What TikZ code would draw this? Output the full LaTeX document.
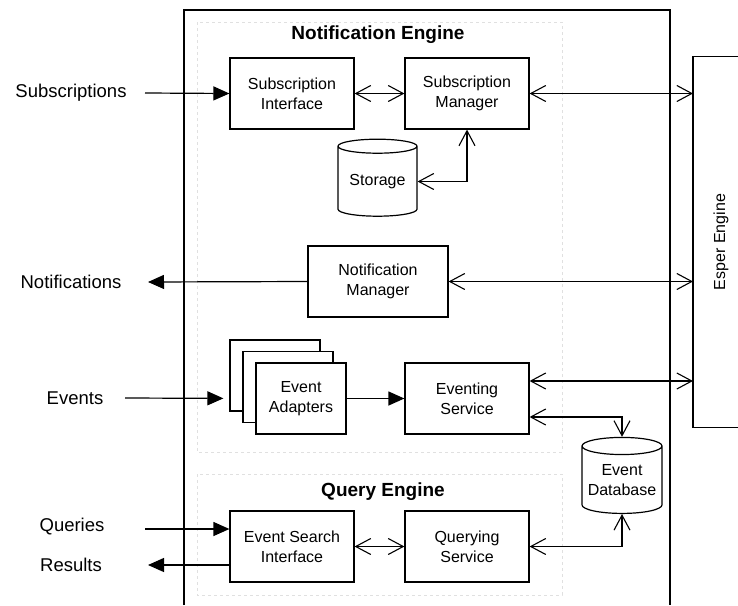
\documentclass[tikz,border=0pt]{standalone}
\usepackage{fontspec}
\setmainfont{Liberation Sans}
\usetikzlibrary{arrows.meta,shapes.geometric,shadows}

\begin{document}
\begin{tikzpicture}[x=1pt,y=-1pt,line width=1.2pt,
  >={Straight Barb[length=15pt,width=16pt,line width=1.1pt]},
  box/.style={draw,fill=white,minimum width=124pt,minimum height=71pt,align=center,inner sep=0pt,font={\fontsize{16}{20}\selectfont}},
  drum/.style={draw,fill=white,cylinder,shape border rotate=90,aspect=0.25,inner sep=0pt,align=center,font={\fontsize{16}{20}\selectfont}},
  outlabel/.style={font={\fontsize{18.5}{22}\selectfont}},
  title/.style={font={\fontsize{19}{22}\selectfont\bfseries}},
  feed/.style={-{Triangle[length=16pt,width=14pt]}},
  group/.style={draw=black!12,dashed,line width=0.8pt}]
\useasboundingbox (0,0) rectangle (738,605);
\draw (184,605) -- (184,10) -- (670,10) -- (670,605);
\draw[group] (197,22) rectangle (562,452);
\draw[group] (197,474) rectangle (562,595);

\node[title] (ntitle) at (378,35) {Notification Engine};
\node[title] (qtitle) at (383,492) {Query Engine};

\node[box] (si) at (292,93.5) {Subscription\\Interface};
\node[box] (sm) at (467,93.5) {Subscription\\Manager};
\node[drum,minimum width=79pt,minimum height=77pt] (store) at (377.5,181.5) {Storage};
\node[box,minimum width=140pt] (nm) at (378,281.5) {Notification\\Manager};
\node[box,minimum width=90pt,double copy shadow={shadow xshift=-13pt,shadow yshift=11.5pt}] (ea) at (301,398.5) {Event\\Adapters};
\node[box] (es) at (467,398.5) {Eventing\\Service};
\node[drum,minimum width=80pt,minimum height=76pt] (db) at (622,480) {Event\\Database};
\node[box] (esi) at (292,546.5) {Event Search\\Interface};
\node[box] (qs) at (467,546.5) {Querying\\Service};

\node[anchor=west,minimum width=55pt,minimum height=370pt,inner sep=0pt,font={\fontsize{16}{20}\selectfont}] (esper) at (693,242) {\rotatebox{90}{Esper Engine}};
\draw ([xshift=30pt]esper.north east) -- (esper.north west) -- (esper.south west) -- ([xshift=30pt]esper.south east);

\node[outlabel] (subs) at (71,93) {Subscriptions};
\node[outlabel] (notif) at (71,282) {Notifications};
\node[outlabel] (events) at (75,398) {Events};
\node[outlabel] (queries) at (72,527) {Queries};
\node[outlabel] (results) at (71,565) {Results};
\coordinate (subsin) at (145,93);
\coordinate (notifout) at (148,282);
\coordinate (eventsin) at (125,398);
\coordinate (queriesin) at (145,529);
\coordinate (resultsout) at (148,565);

\draw[feed] (subsin) -- (si.west);
\draw[<->] (si.east) -- (sm.west);
\draw[<->] (sm.east) -- (sm.east -| esper.west);
\draw[<->] (sm.south) |- (store.east);
\draw[feed] (nm.west) -- (notifout);
\draw[<->] (nm.east) -- (nm.east -| esper.west);
\draw[feed,shorten >=32pt] (eventsin) -- (ea.west);
\draw[feed] (ea.east) -- (es.west);
\draw[<->] ([yshift=17.5pt]es.east) -- ([yshift=17.5pt]es.east -| esper.west);
\draw[<->] ([yshift=-18.5pt]es.east) -| (db.north);
\draw[feed] (queriesin) -- ([yshift=17.5pt]esi.west);
\draw[feed] ([yshift=-18.5pt]esi.west) -- (resultsout);
\draw[<->] (esi.east) -- (qs.west);
\draw[<->] (qs.east) -| (db.south);
\end{tikzpicture}
\end{document}
